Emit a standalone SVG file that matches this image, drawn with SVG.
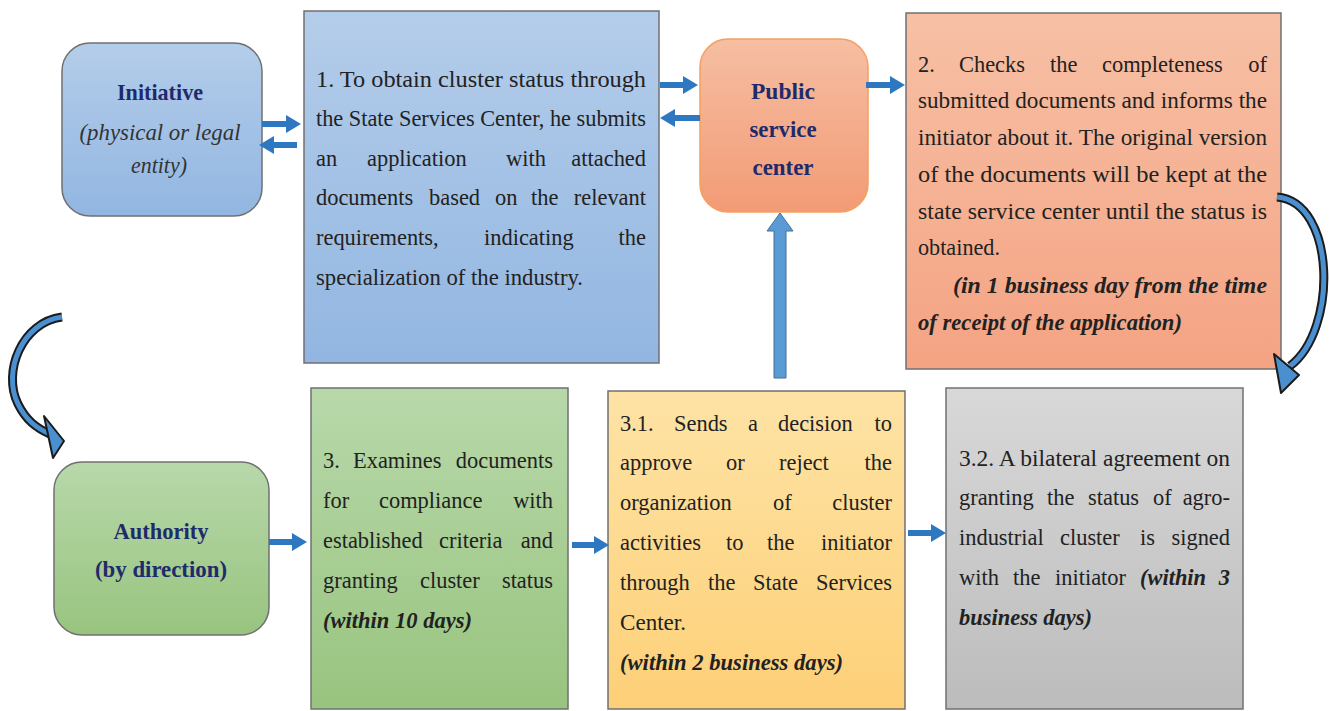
<svg xmlns="http://www.w3.org/2000/svg" width="1329" height="711" viewBox="0 0 1329 711">
<style>
.t{font-family:"Liberation Serif","Times New Roman",serif;font-size:24px;fill:#222}
.c{transform:scaleX(0.935);transform-box:fill-box;transform-origin:0% 50%}
.ce{text-anchor:end;transform:scaleX(0.935);transform-box:fill-box;transform-origin:100% 50%}
.bi{font-weight:bold;font-style:italic}
.h{font-weight:bold;fill:#1f2a6b;text-anchor:middle}
.it{font-style:italic;fill:#333;text-anchor:middle}
.box{stroke:#707070;stroke-width:1.5}
.ar{stroke:#2e78c2;stroke-width:6;fill:none;marker-end:url(#ah)}
.cv{fill:none;stroke:#1b1b1b;stroke-width:9;stroke-linecap:butt}
.cvi{fill:none;stroke:#4a8fd0;stroke-width:5;stroke-linecap:butt}
.cvh{fill:#4a8fd0;stroke:#1b1b1b;stroke-width:2;stroke-linejoin:round}
</style>
<defs>
<linearGradient id="gBlue" x1="0" y1="0" x2="0" y2="1"><stop offset="0" stop-color="#b4cdea"/><stop offset="1" stop-color="#92b6e1"/></linearGradient>
<linearGradient id="gSal" x1="0" y1="0" x2="0" y2="1"><stop offset="0" stop-color="#f7c0a5"/><stop offset="1" stop-color="#f4a383"/></linearGradient>
<linearGradient id="gPsc" x1="0" y1="0" x2="0" y2="1"><stop offset="0" stop-color="#f6bea2"/><stop offset="1" stop-color="#f29b75"/></linearGradient>
<linearGradient id="gGreen" x1="0" y1="0" x2="0" y2="1"><stop offset="0" stop-color="#b8d8aa"/><stop offset="1" stop-color="#98c47f"/></linearGradient>
<linearGradient id="gYel" x1="0" y1="0" x2="0" y2="1"><stop offset="0" stop-color="#fee3a5"/><stop offset="1" stop-color="#fdd078"/></linearGradient>
<linearGradient id="gGray" x1="0" y1="0" x2="0" y2="1"><stop offset="0" stop-color="#d8d8d8"/><stop offset="1" stop-color="#bcbcbc"/></linearGradient>
<marker id="ah" markerUnits="userSpaceOnUse" markerWidth="15" markerHeight="18" viewBox="0 0 15 18" refX="1" refY="9" orient="auto">
<path d="M0,0 L15,9 L0,18 Z" fill="#2e78c2"/>
</marker>
</defs>

<g id="initiative">
<rect x="62" y="43" width="200" height="173" rx="28" fill="url(#gBlue)" class="box"/>
<text class="t h" x="160" y="100" textLength="86" lengthAdjust="spacingAndGlyphs">Initiative</text>
<text class="t it" x="160" y="140" textLength="161" lengthAdjust="spacingAndGlyphs">(physical or legal</text>
<text class="t it" x="159" y="173" textLength="56" lengthAdjust="spacingAndGlyphs">entity)</text>
</g>

<g id="step1">
<rect x="304" y="11" width="355" height="352" fill="url(#gBlue)" class="box"/>
<text class="t" x="316" y="87" textLength="330" lengthAdjust="spacingAndGlyphs">1. To obtain cluster status through</text>
<text class="t" x="316" y="126" textLength="330" lengthAdjust="spacingAndGlyphs">the State Services Center, he submits</text>
<text class="t c" x="316" y="166">an</text><text class="t c" x="367" y="166">application</text><text class="t c" x="506" y="166">with</text><text class="t ce" x="646" y="166">attached</text>
<text class="t c" x="316" y="205">documents</text><text class="t c" x="429" y="205">based</text><text class="t c" x="495" y="205">on</text><text class="t c" x="531" y="205">the</text><text class="t ce" x="646" y="205">relevant</text>
<text class="t c" x="316" y="245">requirements,</text><text class="t c" x="484" y="245">indicating</text><text class="t ce" x="646" y="245">the</text>
<text class="t" x="316" y="285" textLength="267" lengthAdjust="spacingAndGlyphs">specialization of the industry.</text>
</g>

<g id="psc">
<rect x="700" y="39" width="168" height="173" rx="28" fill="url(#gPsc)" stroke="#f4a060" stroke-width="1.5"/>
<text class="t h" x="783" y="99" textLength="64" lengthAdjust="spacingAndGlyphs">Public</text>
<text class="t h" x="783" y="137" textLength="67" lengthAdjust="spacingAndGlyphs">service</text>
<text class="t h" x="783" y="175" textLength="61" lengthAdjust="spacingAndGlyphs">center</text>
</g>

<g id="step2">
<rect x="906" y="13" width="375" height="356" fill="url(#gSal)" class="box"/>
<text class="t c" x="918" y="72">2.</text><text class="t c" x="959" y="72">Checks</text><text class="t c" x="1050" y="72">the</text><text class="t c" x="1102" y="72">completeness</text><text class="t ce" x="1267" y="72">of</text>
<text class="t" x="918" y="108" textLength="349" lengthAdjust="spacingAndGlyphs">submitted documents and informs the</text>
<text class="t" x="918" y="145" textLength="349" lengthAdjust="spacingAndGlyphs">initiator about it. The original version</text>
<text class="t" x="918" y="182" textLength="349" lengthAdjust="spacingAndGlyphs">of the documents will be kept at the</text>
<text class="t" x="918" y="219" textLength="349" lengthAdjust="spacingAndGlyphs">state service center until the status is</text>
<text class="t" x="918" y="255" textLength="82" lengthAdjust="spacingAndGlyphs">obtained.</text>
<text class="t bi" x="953" y="293" textLength="314" lengthAdjust="spacingAndGlyphs">(in 1 business day from the time</text>
<text class="t bi" x="918" y="330" textLength="264" lengthAdjust="spacingAndGlyphs">of receipt of the application)</text>
</g>

<g id="authority">
<rect x="54" y="462" width="215" height="173" rx="28" fill="url(#gGreen)" class="box"/>
<text class="t h" x="161" y="539" textLength="95" lengthAdjust="spacingAndGlyphs">Authority</text>
<text class="t h" x="161" y="577" textLength="132" lengthAdjust="spacingAndGlyphs">(by direction)</text>
</g>

<g id="step3">
<rect x="311" y="388" width="257" height="321" fill="url(#gGreen)" class="box"/>
<text class="t c" x="323" y="468">3.</text><text class="t c" x="353" y="468">Examines</text><text class="t ce" x="553" y="468">documents</text>
<text class="t c" x="323" y="508">for</text><text class="t c" x="379" y="508">compliance</text><text class="t ce" x="553" y="508">with</text>
<text class="t c" x="323" y="548">established</text><text class="t c" x="439" y="548">criteria</text><text class="t ce" x="553" y="548">and</text>
<text class="t c" x="323" y="588">granting</text><text class="t c" x="420" y="588">cluster</text><text class="t ce" x="553" y="588">status</text>
<text class="t bi" x="323" y="628" textLength="149" lengthAdjust="spacingAndGlyphs">(within 10 days)</text>
</g>

<g id="step31">
<rect x="608" y="391" width="297" height="318" fill="url(#gYel)" class="box"/>
<text class="t c" x="620" y="431">3.1.</text><text class="t c" x="674" y="431">Sends</text><text class="t c" x="748" y="431">a</text><text class="t c" x="778" y="431">decision</text><text class="t ce" x="892" y="431">to</text>
<text class="t c" x="620" y="470">approve</text><text class="t c" x="726" y="470">or</text><text class="t c" x="779" y="470">reject</text><text class="t ce" x="892" y="470">the</text>
<text class="t c" x="620" y="510">organization</text><text class="t c" x="773" y="510">of</text><text class="t ce" x="892" y="510">cluster</text>
<text class="t c" x="620" y="550">activities</text><text class="t c" x="726" y="550">to</text><text class="t c" x="767" y="550">the</text><text class="t ce" x="892" y="550">initiator</text>
<text class="t c" x="620" y="590">through</text><text class="t c" x="708" y="590">the</text><text class="t c" x="753" y="590">State</text><text class="t ce" x="892" y="590">Services</text>
<text class="t" x="620" y="630" textLength="66" lengthAdjust="spacingAndGlyphs">Center.</text>
<text class="t bi" x="620" y="670" textLength="223" lengthAdjust="spacingAndGlyphs">(within 2 business days)</text>
</g>

<g id="step32">
<rect x="946" y="388" width="297" height="321" fill="url(#gGray)" class="box"/>
<text class="t" x="959" y="466" textLength="271" lengthAdjust="spacingAndGlyphs">3.2. A bilateral agreement on</text>
<text class="t c" x="959" y="505">granting</text><text class="t c" x="1047" y="505">the</text><text class="t c" x="1088" y="505">status</text><text class="t c" x="1153" y="505">of</text><text class="t ce" x="1230" y="505">agro-</text>
<text class="t c" x="959" y="545">industrial</text><text class="t c" x="1060" y="545">cluster</text><text class="t c" x="1140" y="545">is</text><text class="t ce" x="1230" y="545">signed</text>
<text class="t c" x="959" y="585">with</text><text class="t c" x="1013" y="585">the</text><text class="t c" x="1055" y="585">initiator</text><text class="t c bi" x="1140" y="585">(within</text><text class="t ce bi" x="1230" y="585">3</text>
<text class="t bi" x="959" y="625" textLength="133" lengthAdjust="spacingAndGlyphs">business days)</text>
</g>

<g id="connectors">
<line class="ar" x1="262" y1="124" x2="287" y2="124"/>
<line class="ar" x1="297" y1="145" x2="273" y2="145"/>
<line class="ar" x1="660" y1="85" x2="684" y2="85"/>
<line class="ar" x1="700" y1="118" x2="674" y2="118"/>
<line class="ar" x1="866" y1="85" x2="891" y2="85"/>
<line class="ar" x1="269" y1="542" x2="293" y2="542"/>
<line class="ar" x1="572" y1="545" x2="595" y2="545"/>
<line class="ar" x1="908" y1="533" x2="932" y2="533"/>
<polygon points="774,378 786,378 786,231 793,231 780,213 767,231 774,231" fill="#5b9bd5" stroke="#41719c" stroke-width="1"/>
<path class="cv" d="M62,317 C22,322 2,372 18,404 C26,420 36,428 50,434"/>
<path class="cvi" d="M62,317 C22,322 2,372 18,404 C26,420 36,428 50,434"/>
<polygon class="cvh" points="44,416 64,441 53,458"/>
<path class="cv" d="M1277,197 C1336,202 1338,330 1290,366"/>
<path class="cvi" d="M1277,197 C1336,202 1338,330 1290,366"/>
<polygon class="cvh" points="1274,354 1299,375 1281,393"/>
</g>
</svg>
